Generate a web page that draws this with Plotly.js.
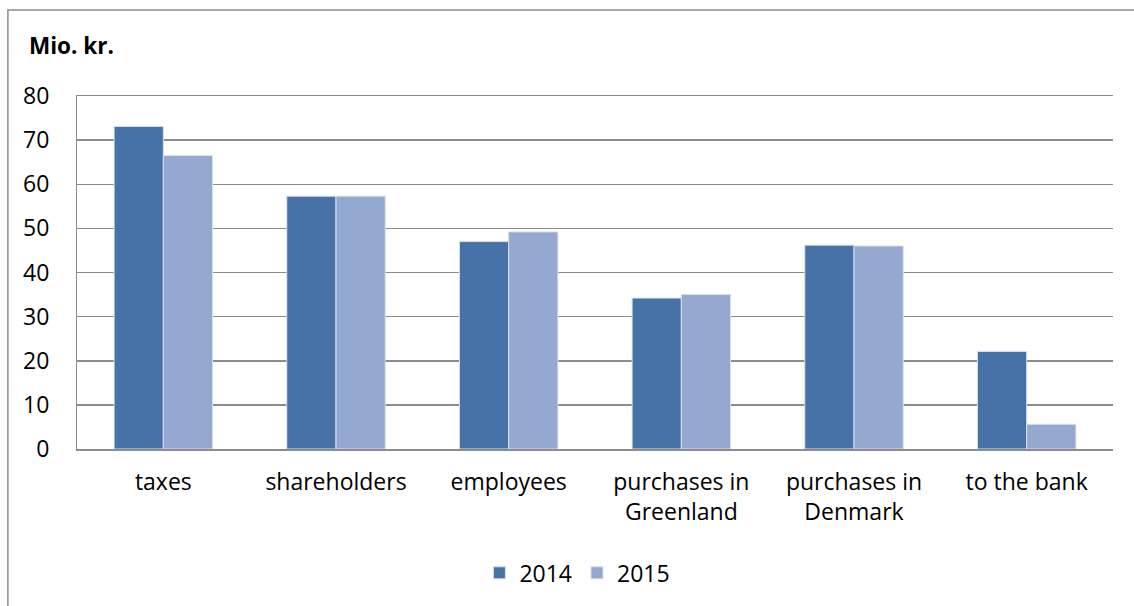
<!DOCTYPE html>
<html>
<head>
<meta charset="utf-8">
<script src="https://cdn.plot.ly/plotly-3.0.1.min.js"></script>
<style>html,body{margin:0;padding:0;background:#fff;}#chart{width:1134px;height:606px;}</style>
</head>
<body>
<div id="chart"></div>
<script>
var categories = ["taxes", "shareholders", "employees", "purchases in<br>Greenland", "purchases in<br>Denmark", "to the bank"];
var values2014 = [73.1, 57.3, 47.0, 34.2, 46.2, 22.1];
var values2015 = [66.5, 57.3, 49.2, 35.0, 46.0, 5.6];
var seriesNames = ["2014", "2015"];
var tickVals = [0, 10, 20, 30, 40, 50, 60, 70, 80];

var FONT = "Open Sans, Lato, sans-serif";
var traces = [
  {type: "bar", name: seriesNames[0], x: categories, y: values2014,
   marker: {color: "#4672A7", line: {color: "#D6DEEC", width: 1}}},
  {type: "bar", name: seriesNames[1], x: categories, y: values2015,
   marker: {color: "#95A9D0", line: {color: "#D6DEEC", width: 1}}}
];
var layout = {
  width: 1134, height: 606,
  margin: {l: 77, r: 21, t: 96, b: 157},
  paper_bgcolor: "#fff", plot_bgcolor: "#fff",
  barmode: "group", bargap: 0.43, bargroupgap: 0,
  font: {family: FONT, size: 23, color: "#000"},
  xaxis: {showgrid: false, showline: true, mirror: true, linecolor: "#8C8C8C", linewidth: 1.5,
          ticks: "", ticklabelstandoff: 12, tickfont: {size: 23, family: FONT}},
  yaxis: {range: [0, 80], tickvals: tickVals, showgrid: true, gridcolor: "#8C8C8C", gridwidth: 1.5,
          showline: true, linecolor: "#8C8C8C", linewidth: 1, zeroline: false, ticks: "",
          ticklabelstandoff: 22, tickfont: {size: 23, family: FONT}},
  legend: {orientation: "h", x: 0.483, xanchor: "center", y: -0.29, yanchor: "top",
           font: {size: 23, family: FONT}, itemwidth: 30, traceorder: "normal"},
  showlegend: true,
  annotations: [{text: "<b>Mio. kr.</b>", xref: "paper", yref: "paper", x: -0.0483, y: 1.143,
                 xanchor: "left", yanchor: "middle", showarrow: false, font: {size: 22.5, family: FONT}}],
  shapes: [{type: "path", xref: "paper", yref: "paper",
            path: "M -0.0667,-0.6 L -0.0667,1.2436 L 1.03,1.2436",
            line: {color: "#8C8C8C", width: 1.5}}]
};
Plotly.newPlot("chart", traces, layout, {displayModeBar: false, staticPlot: true});
</script>
</body>
</html>
